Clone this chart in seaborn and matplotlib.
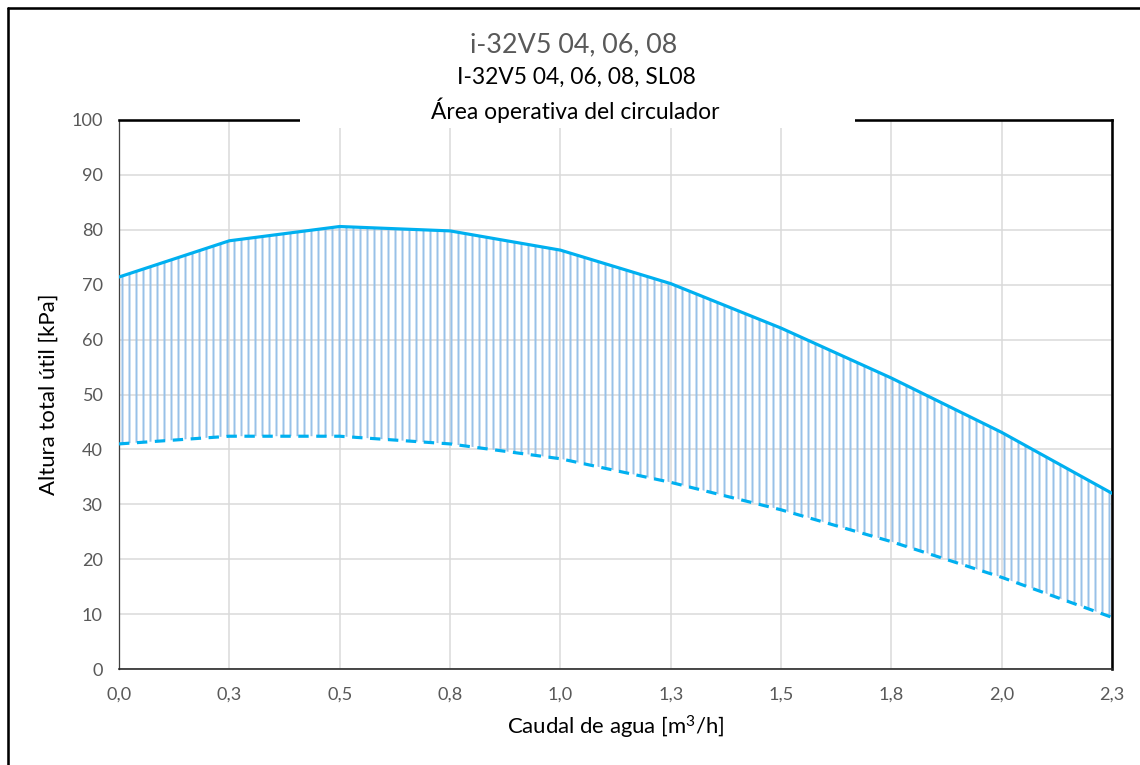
import matplotlib
matplotlib.use("Agg")
import matplotlib.pyplot as plt
from matplotlib.patches import Rectangle
from matplotlib.lines import Line2D
import seaborn as sns
import pandas as pd

# ---- data ----
flow = [0.0, 0.25, 0.5, 0.75, 1.0, 1.25, 1.5, 1.75, 2.0, 2.25]
x_tick_labels = ["0,0", "0,3", "0,5", "0,8", "1,0", "1,3", "1,5", "1,8", "2,0", "2,3"]
head_max = [71.4, 78.0, 80.6, 79.8, 76.3, 70.2, 62.1, 53.0, 43.1, 32.0]
head_min = [41.0, 42.4, 42.4, 41.0, 38.3, 34.0, 29.0, 23.2, 16.7, 9.4]
y_ticks = [0, 10, 20, 30, 40, 50, 60, 70, 80, 90, 100]

title_1 = "i-32V5 04, 06, 08"
title_2 = "I-32V5 04, 06, 08, SL08"
title_3 = "Área operativa del circulador"
x_label = r"Caudal de agua [m$^{3}$/h]"
y_label = "Altura total útil [kPa]"

df = pd.DataFrame({"flow": flow, "max": head_max, "min": head_min})

# ---- style ----
sns.set_theme(style="whitegrid")
plt.rcParams["font.family"] = ["Lato", "DejaVu Sans"]
plt.rcParams["mathtext.fontset"] = "custom"
plt.rcParams["mathtext.rm"] = "Lato"
plt.rcParams["mathtext.default"] = "regular"
plt.rcParams["hatch.linewidth"] = 1.7

DPI = 84
W, H = 1140, 765
fig = plt.figure(figsize=(W / DPI, H / DPI), dpi=DPI, facecolor="white")
ax = fig.add_axes([119 / W, 1 - 669 / H, (1112 - 119) / W, (669 - 120) / H])
ax.set_facecolor("white")

line_color = "#00B0F0"
hatch_color = "#98C1E8"

ax.fill_between(df["flow"], df["min"], df["max"], facecolor="none",
                edgecolor=hatch_color, hatch="||", linewidth=0, zorder=2)
sns.lineplot(data=df, x="flow", y="max", ax=ax, color=line_color,
             linewidth=2.7, zorder=3)
sns.lineplot(data=df, x="flow", y="min", ax=ax, color=line_color,
             linewidth=2.7, zorder=3)
ax.lines[-1].set_linestyle((0, (3.3, 2.4)))

ax.set_xlim(0, 2.25)
ax.set_ylim(0, 100)
ax.set_xticks(flow)
ax.set_xticklabels(x_tick_labels)
ax.set_yticks(y_ticks)
ax.tick_params(axis="both", colors="#595959", labelsize=15.5, length=0)
ax.tick_params(axis="x", pad=15)
ax.tick_params(axis="y", pad=14)
ax.grid(True, color="#D9D9D9", linewidth=1.3)
ax.set_axisbelow(True)

ax.set_xlabel(x_label, fontsize=19, color="black", labelpad=10)
ax.set_ylabel(y_label, fontsize=19, color="black", labelpad=11)

for side in ["top", "right"]:
    ax.spines[side].set_color("black")
    ax.spines[side].set_linewidth(2.2)
    ax.spines[side].set_visible(True)
ax.spines["left"].set_color("#404040")
ax.spines["left"].set_linewidth(1.1)
ax.spines["bottom"].set_color("#262626")
ax.spines["bottom"].set_linewidth(1.4)

# title area (white box overlapping top of plot area)
fig.patches.append(Rectangle((300 / W, 1 - 128 / H), (855 - 300) / W, 110 / H,
                             transform=fig.transFigure, facecolor="white",
                             edgecolor="none", zorder=5))
fig.text(574 / W, 1 - 45 / H, title_1, ha="center", va="center",
         fontsize=23, color="#595959", zorder=6)
fig.text(576 / W, 1 - 77 / H, title_2, ha="center", va="center",
         fontsize=19.5, color="black", zorder=6)
fig.text(575 / W, 1 - 110 / H, title_3, ha="center", va="center",
         fontsize=19.5, color="black", zorder=6)

# outer chart frame (left and top edges visible)
fig.add_artist(Line2D([7.5 / W, 7.5 / W], [0, 1 - 7.5 / H], transform=fig.transFigure,
                      color="black", linewidth=2.2, zorder=7))
fig.add_artist(Line2D([7.5 / W, 1], [1 - 7.5 / H, 1 - 7.5 / H], transform=fig.transFigure,
                      color="black", linewidth=2.2, zorder=7))

fig.savefig("out.png", dpi=DPI, facecolor="white")
